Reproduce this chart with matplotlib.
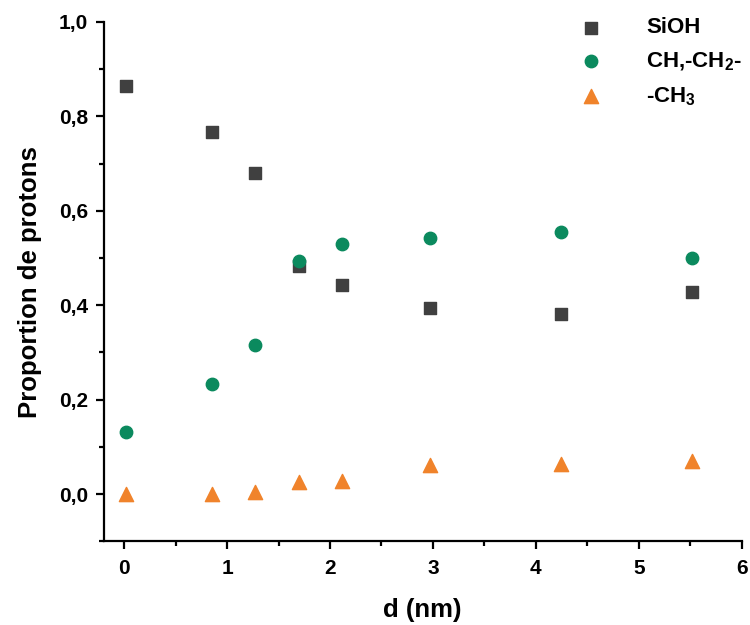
import matplotlib
matplotlib.use("Agg")
import matplotlib.pyplot as plt
from matplotlib.ticker import MultipleLocator, FuncFormatter

plt.rcParams['font.family'] = ['Liberation Sans', 'DejaVu Sans']
plt.rcParams['font.weight'] = 'bold'
plt.rcParams['mathtext.fontset'] = 'custom'
plt.rcParams['mathtext.rm'] = 'Liberation Sans:bold'
plt.rcParams['mathtext.bf'] = 'Liberation Sans:bold'
plt.rcParams['mathtext.default'] = 'rm'

d = [0.02, 0.85, 1.27, 1.70, 2.12, 2.97, 4.24, 5.52]
sioh = [0.865, 0.767, 0.680, 0.482, 0.443, 0.394, 0.381, 0.428]
ch_ch2 = [0.132, 0.232, 0.315, 0.493, 0.530, 0.543, 0.555, 0.499]
ch3 = [0.0, 0.0, 0.005, 0.025, 0.027, 0.062, 0.063, 0.071]

fig = plt.figure(figsize=(7.5, 6.25), dpi=100)
ax = fig.add_axes([0.138, 0.134, 0.851, 0.831])

ax.scatter(d, sioh, marker='s', s=70, color='#404040', label='SiOH', zorder=3)
ax.scatter(d, ch_ch2, marker='o', s=80, color='#0b8a5e', label='CH,-CH$_2$-', zorder=3)
ax.scatter(d, ch3, marker='^', s=105, color='#f0832b', label='-CH$_3$', zorder=3)

ax.set_xlim(-0.2, 6.0)
ax.set_ylim(-0.1, 1.0)
ax.xaxis.set_major_locator(MultipleLocator(1))
ax.xaxis.set_minor_locator(MultipleLocator(0.5))
ax.yaxis.set_major_locator(MultipleLocator(0.2))
ax.yaxis.set_minor_locator(MultipleLocator(0.1))
ax.yaxis.set_major_formatter(FuncFormatter(lambda v, p: f"{v:.1f}".replace('.', ',')))

for s in ['top', 'right']:
    ax.spines[s].set_visible(False)
for s in ['left', 'bottom']:
    ax.spines[s].set_linewidth(1.6)
ax.tick_params(which='major', length=6, width=1.6, labelsize=15, direction='out')
ax.tick_params(which='minor', length=3.6, width=1.6, direction='out')
ax.tick_params(axis='x', which='major', pad=7)
ax.tick_params(axis='y', which='major', pad=5)
for lab in ax.get_xticklabels() + ax.get_yticklabels():
    lab.set_fontweight('bold')

ax.set_xlabel('d (nm)', fontsize=18.5, fontweight='bold', labelpad=14)
ax.set_ylabel('Proportion de protons', fontsize=18.5, fontweight='bold', labelpad=12)

leg = ax.legend(loc='upper right', frameon=False, fontsize=16, handletextpad=1.5,
                borderaxespad=0.1, labelspacing=0.55, bbox_to_anchor=(1.018, 1.03))
for t in leg.get_texts():
    t.set_fontweight('bold')

fig.savefig('out.png', dpi=100)
